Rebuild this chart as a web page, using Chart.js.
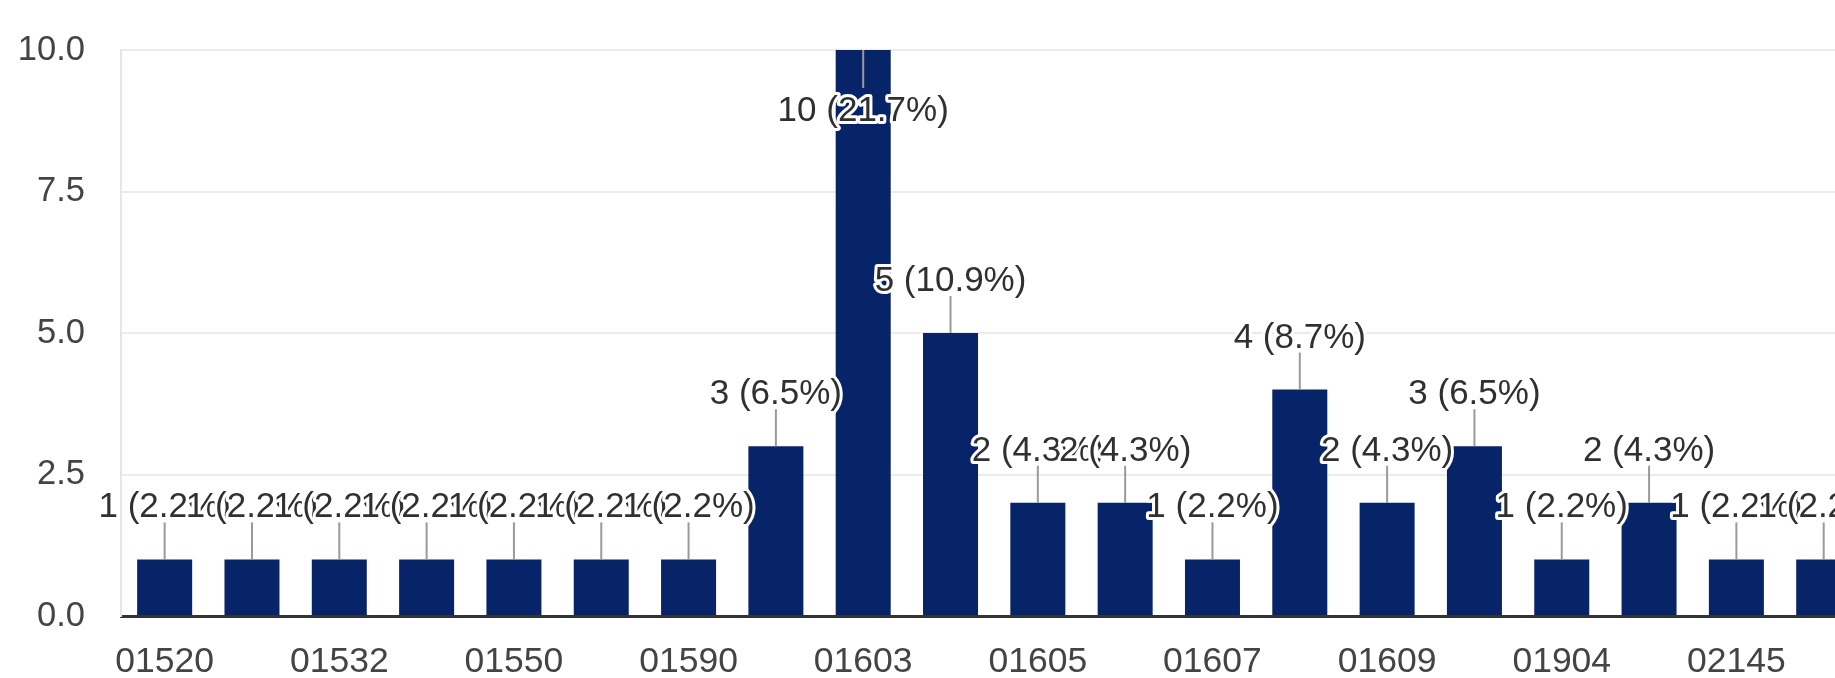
<!DOCTYPE html>
<html>
<head>
<meta charset="utf-8">
<script src="https://cdn.jsdelivr.net/npm/chart.js@4.4.1/dist/chart.umd.min.js"></script>
<style>
  html, body { margin: 0; padding: 0; background: #fff; overflow: hidden; width: 1835px; height: 678px; }
  #wrap { position: absolute; left: 0; top: 0; width: 2042px; height: 678px; }
</style>
</head>
<body>
<div id="wrap"><canvas id="chart" width="2042" height="678"></canvas></div>
<script>
// Responses per ZIP code (alphabetical order)
const zipCodes = [
  "01520", "01527", "01532", "01545", "01550", "01581", "01590", "01602",
  "01603", "01604", "01605", "01606", "01607", "01608", "01609", "01701",
  "01904", "02139", "02145", "02155", "02421", "02446"
];
const responses = [
  1, 1, 1, 1, 1, 1, 1, 3,
  10, 5, 2, 2, 1, 4, 2, 3,
  1, 2, 1, 1, 1, 1
];
const yTicks = [0, 2.5, 5, 7.5, 10];

const total = responses.reduce((a, b) => a + b, 0);
const FONT = "'Liberation Sans', Arial, Helvetica, sans-serif";
const BAR_COLOR = "#082468";

// Value labels "n (p%)" with a leader line; a white halo lets later labels sit on top
const barLabels = {
  id: "barLabels",
  afterDatasetsDraw(chart) {
    const ctx = chart.ctx;
    const area = chart.chartArea;
    const meta = chart.getDatasetMeta(0);
    ctx.save();
    ctx.font = "35px " + FONT;
    ctx.textAlign = "center";
    ctx.textBaseline = "alphabetic";
    meta.data.forEach((bar, i) => {
      const v = responses[i];
      const text = v + " (" + (v / total * 100).toFixed(1) + "%)";
      const x = bar.x;
      const top = bar.y;
      const below = top - 75 < area.top;
      const baseY = below ? top + 71 : top - 42;
      const lineEnd = below ? top + 38 : top - 37;
      ctx.strokeStyle = "#9a9a9a";
      ctx.lineWidth = 2;
      ctx.beginPath();
      ctx.moveTo(x, top);
      ctx.lineTo(x, lineEnd);
      ctx.stroke();
      ctx.lineJoin = "round";
      ctx.lineWidth = 6;
      ctx.strokeStyle = "#ffffff";
      ctx.strokeText(text, x, baseY);
      ctx.fillStyle = "#303030";
      ctx.fillText(text, x, baseY);
    });
    ctx.restore();
  }
};

new Chart(document.getElementById("chart"), {
  type: "bar",
  data: {
    labels: zipCodes,
    datasets: [{
      data: responses,
      backgroundColor: BAR_COLOR,
      borderWidth: 0,
      categoryPercentage: 1.0,
      barPercentage: 0.63
    }]
  },
  options: {
    responsive: false,
    animation: false,
    devicePixelRatio: 1,
    layout: { padding: { top: 50, left: 0, right: 0, bottom: 0 } },
    plugins: { legend: { display: false }, tooltip: { enabled: false } },
    scales: {
      x: {
        grid: { display: false, drawTicks: false },
        border: { display: true, color: "#333333", width: 3 },
        ticks: {
          autoSkip: false,
          maxRotation: 0,
          minRotation: 0,
          padding: 25,
          color: "#444444",
          font: { size: 35.5, family: FONT },
          callback: (v, i) => (i % 2 === 0 ? zipCodes[i] : "")
        },
        afterFit(scale) {
          scale.height = 62;
          scale.paddingLeft = 0;
          scale.paddingRight = 0;
        }
      },
      y: {
        min: 0,
        max: 10,
        afterBuildTicks(scale) { scale.ticks = yTicks.map(v => ({ value: v })); },
        grid: { color: "#ebebeb", lineWidth: 2, drawTicks: false },
        border: { display: true, color: "#e6e6e6", width: 2 },
        ticks: {
          padding: 36,
          color: "#444444",
          font: { size: 34.5, family: FONT },
          callback: v => Number(v).toFixed(1)
        },
        afterFit(scale) {
          scale.width = 121;
          scale.paddingTop = 0;
          scale.paddingBottom = 0;
        }
      }
    }
  },
  plugins: [barLabels]
});
</script>
</body>
</html>
